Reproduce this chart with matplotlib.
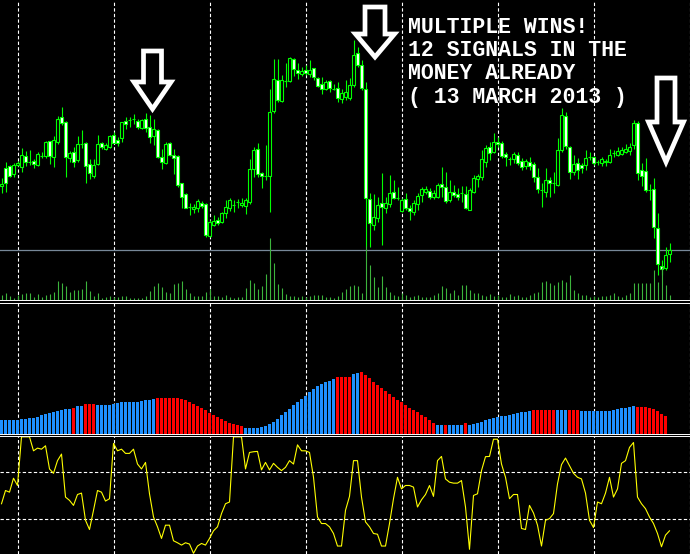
import matplotlib
matplotlib.use('Agg')
import matplotlib.pyplot as plt
from matplotlib.patches import Polygon
import numpy as np

# candles (price in points)
opens = [114, 132, 134, 126, 135, 133, 144, 138, 139, 135,
         144, 144, 159, 143, 158, 183, 178, 142, 148, 140,
         156, 157, 136, 124, 136, 157, 151, 153, 165, 160,
         162, 179, 180, 181, 179, 172, 181, 173, 164, 170,
         143, 137, 157, 145, 144, 117, 106, 93, 91, 92,
         97, 96, 64, 75, 80, 78, 87, 92, 95, 98,
         95, 94, 98, 131, 151, 127, 124, 124, 189, 220,
         199, 219, 219, 241, 230, 226, 230, 226, 232, 222,
         216, 211, 219, 211, 212, 201, 203, 202, 215, 247,
         235, 211, 101, 75, 82, 97, 92, 96, 108, 102,
         89, 101, 92, 88, 96, 105, 108, 109, 103, 103,
         116, 113, 100, 108, 106, 107, 106, 90, 108, 121,
         123, 138, 153, 148, 158, 157, 146, 141, 141, 145,
         139, 134, 138, 136, 123, 110, 108, 120, 117, 115,
         150, 184, 153, 128, 137, 135, 135, 143, 143, 138,
         137, 138, 138, 147, 145, 146, 148, 149, 155, 177,
         130, 129, 110, 111, 72, 34, 32, 46]
highs = [122, 138, 135, 137, 139, 152, 149, 150, 141, 148,
         148, 159, 159, 164, 184, 193, 179, 149, 153, 164,
         170, 158, 141, 141, 165, 158, 157, 165, 168, 163,
         178, 183, 183, 186, 181, 181, 187, 185, 181, 171,
         151, 158, 158, 151, 145, 117, 107, 97, 96, 101,
         99, 97, 80, 85, 83, 88, 100, 102, 100, 101,
         102, 102, 141, 153, 157, 128, 155, 211, 241, 241,
         225, 237, 243, 242, 237, 233, 235, 240, 232, 223,
         223, 220, 220, 216, 218, 211, 220, 222, 260, 253,
         240, 218, 107, 106, 103, 127, 103, 125, 120, 113,
         102, 107, 95, 100, 107, 113, 114, 112, 110, 117,
         133, 128, 120, 115, 112, 114, 114, 112, 125, 126,
         150, 155, 158, 167, 163, 159, 148, 143, 148, 148,
         142, 141, 143, 138, 132, 117, 132, 123, 128, 162,
         192, 188, 154, 145, 142, 137, 150, 148, 144, 140,
         143, 141, 151, 150, 153, 153, 156, 157, 180, 179,
         137, 142, 116, 122, 87, 40, 53, 57]
lows = [107, 108, 123, 123, 134, 128, 134, 135, 132, 134,
        142, 142, 136, 133, 156, 175, 123, 138, 133, 138,
        152, 117, 121, 122, 135, 151, 150, 152, 157, 154,
        158, 171, 173, 176, 171, 171, 168, 157, 155, 142,
        131, 136, 144, 126, 113, 92, 92, 85, 87, 88,
        92, 63, 63, 74, 75, 77, 82, 89, 88, 92,
        93, 86, 96, 123, 123, 112, 120, 88, 187, 198,
        198, 213, 218, 224, 221, 224, 225, 223, 220, 213,
        206, 210, 208, 210, 198, 197, 200, 200, 213, 233,
        210, 53, 53, 70, 78, 55, 87, 93, 101, 100,
        88, 90, 80, 85, 90, 98, 106, 101, 101, 102,
        103, 97, 98, 103, 100, 98, 91, 90, 107, 113,
        120, 133, 140, 147, 153, 142, 134, 135, 137, 135,
        130, 131, 130, 118, 107, 93, 103, 103, 107, 114,
        148, 151, 121, 125, 121, 127, 130, 140, 135, 135,
        134, 134, 137, 143, 144, 145, 147, 145, 151, 120,
        114, 108, 100, 62, 25, 25, 30, 38]
closes = [116, 117, 124, 135, 137, 145, 138, 138, 136, 146,
          144, 158, 144, 160, 181, 177, 143, 147, 138, 156,
          156, 134, 127, 135, 156, 153, 155, 164, 157, 157,
          178, 176, 180, 181, 173, 180, 172, 163, 171, 143,
          138, 156, 145, 142, 115, 103, 92, 93, 93, 99,
          94, 65, 78, 79, 77, 87, 93, 100, 95, 98,
          97, 100, 131, 150, 126, 124, 124, 188, 221, 200,
          220, 219, 242, 231, 227, 229, 227, 230, 223, 214,
          211, 218, 212, 211, 202, 207, 208, 215, 245, 235,
          212, 102, 77, 83, 95, 93, 97, 107, 102, 102,
          100, 92, 89, 97, 104, 111, 111, 103, 107, 115,
          113, 99, 108, 105, 103, 107, 92, 110, 122, 124,
          141, 152, 147, 158, 156, 144, 143, 141, 146, 137,
          133, 139, 134, 123, 111, 110, 120, 117, 117, 150,
          185, 154, 128, 136, 130, 132, 142, 143, 137, 138,
          141, 139, 145, 147, 149, 150, 151, 153, 177, 127,
          124, 110, 110, 73, 36, 31, 45, 50]
volumes = [5, 7, 4, 2, 5, 6, 7, 7, 3, 6,
           3, 5, 6, 8, 19, 17, 14, 8, 10, 10,
           11, 19, 9, 4, 7, 2, 3, 4, 3, 3,
           4, 4, 2, 2, 2, 2, 4, 9, 14, 17,
           13, 8, 7, 16, 17, 19, 11, 7, 4, 4,
           4, 8, 11, 4, 4, 3, 5, 3, 2, 3,
           3, 12, 20, 17, 11, 14, 26, 62, 37, 16,
           12, 6, 4, 4, 3, 4, 3, 4, 5, 5,
           5, 3, 3, 2, 4, 8, 11, 14, 15, 14,
           7, 54, 35, 23, 13, 24, 13, 8, 5, 4,
           7, 5, 3, 4, 5, 3, 3, 3, 5, 7,
           14, 12, 7, 10, 5, 15, 15, 10, 7, 7,
           5, 4, 6, 4, 5, 3, 3, 6, 4, 5,
           3, 3, 5, 7, 8, 18, 19, 17, 15, 18,
           20, 18, 25, 10, 7, 5, 5, 3, 4, 3,
           4, 4, 5, 7, 4, 3, 5, 7, 17, 17,
           17, 17, 17, 30, 18, 33, 15, 5]

# trend histogram (middle window)
hist_values = [14, 14, 14, 14, 14, 15, 15, 16, 16.7, 17.7,
               19, 20, 21, 22, 23, 24, 25, 25, 26.3, 28,
               28, 30, 30, 30, 29, 29, 29, 29.7, 30, 31,
               32, 32, 32, 32, 32.7, 33.3, 34, 34.7, 35, 36,
               36, 36, 36, 36, 36, 35, 34, 32, 30, 28,
               26, 24, 21, 19, 17, 15, 13, 11.7, 10.7, 9.7,
               8, 6, 6, 6, 6, 7, 8, 10, 12.7, 15,
               19, 22, 25, 29, 32, 35, 38, 42, 45, 48,
               50, 52, 53.3, 55, 57, 57, 57, 57, 60, 61,
               62.3, 59, 56.7, 52, 49, 46, 43, 40.3, 37.3, 34.7,
               32, 29.3, 26.7, 24, 22, 19.3, 17, 14, 11.3, 9,
               9, 9, 9, 9, 9, 9, 11, 9.7, 10, 11.3,
               12.7, 14, 15, 16, 17, 18, 18.7, 19.3, 20.3, 21.3,
               22, 22, 23, 24, 24, 24, 24, 24, 24, 24,
               24, 24, 24.3, 24.3, 24.3, 23, 23, 23, 23, 23,
               23, 23, 23, 24, 25, 26, 26, 27, 28, 27.7,
               27, 27, 26, 25, 23, 20, 18]
hist_down = [18, 21, 22, 23,
             39, 40, 41, 42, 43, 44, 45, 46, 47, 48, 49, 50,
             51, 52, 53, 54, 55, 56, 57, 58, 59, 60,
             84, 85, 86, 87,
             90, 91, 92, 93, 94, 95, 96, 97, 98, 99, 100,
             101, 102, 103, 104, 105, 106, 107, 108,
             111, 116, 133, 134, 135, 136, 137, 138, 142, 143, 144,
             159, 160, 161, 162, 163, 164, 165, 166]

# oscillator (bottom window)
osc_values = [42.9, 54.2, 52.8, 64.7, 58.5, 100, 100, 100, 88.1, 90.4,
              89.5, 92.4, 72.6, 68.9, 79.7, 85.3, 48.6, 45.8, 41.5, 50.8,
              52, 28.8, 20.9, 37.3, 54.2, 52.8, 45.2, 47.2, 94.4, 88.1,
              89.5, 85.9, 85.9, 89.5, 76.8, 72.6, 78.2, 51.4, 31.6, 23.2,
              13.3, 24.6, 24.6, 11.3, 9.6, 7.6, 9.6, 8.5, 0.6, 6.8,
              9, 7.6, 13.3, 19.8, 23.2, 34.5, 42.9, 44.4, 100, 100,
              100, 72.6, 86.7, 87.3, 87.6, 71.8, 78.2, 71.8, 77.4, 74,
              71.2, 74, 79.7, 76.8, 93.2, 88.1, 88.1, 86.7, 65.5, 31.6,
              26, 26, 23.2, 17.5, 6.8, 6.8, 37.3, 49.2, 79.7, 79.7,
              48.6, 27.4, 23.2, 17.5, 16.9, 6.8, 6.8, 26, 47.2, 65.5,
              55.6, 58.5, 58.5, 57.1, 40.1, 46.3, 50.8, 58.5, 49.2, 79.7,
              83.3, 64.1, 61.3, 60.5, 60.5, 62.7, 40.1, 4, 50, 51.4,
              71.2, 83.1, 83.3, 98, 98, 76.8, 65.5, 47.2, 50.8, 50.8,
              21.8, 20.9, 41.5, 35, 24.6, 6.8, 28.8, 30.2, 34.5, 59.9,
              76.3, 81.9, 75.4, 68.9, 65.5, 64.1, 52, 28.8, 22.6, 44.4,
              42.9, 52, 65.5, 48.6, 55.6, 77.4, 79.7, 91, 95.2, 48.6,
              42.9, 38.7, 31.6, 26, 17.5, 6.2, 16.1, 19.8]
osc_levels = [70, 30]

grid_bars = [4, 28, 52, 76, 100, 124, 148, 172]

message = ['MULTIPLE WINS!', '12 SIGNALS IN THE', 'MONEY ALREADY', '( 13 MARCH 2013 )']

W, H = 690.0, 554.0
LIME = '#00ff00'
GRID = dict(color='white', linestyle=(0, (3, 2)), linewidth=0.8)


def _setup(ax, spines):
    ax.set_facecolor('black')
    for name, sp in ax.spines.items():
        if name in spines:
            sp.set_color('white')
            sp.set_linewidth(0.7)
        else:
            sp.set_visible(False)
    ax.set_xlim(-0.375, 172.125)
    ax.set_xticks(grid_bars)
    ax.set_yticks([])
    ax.tick_params(length=0, labelbottom=False, labelleft=False)
    ax.grid(axis='x', **GRID)
    ax.set_axisbelow(True)


fig = plt.figure(figsize=(W / 100, H / 100), dpi=100, facecolor='black')
ax_price = fig.add_axes([0, 1 - 300.3 / H, 1, 300.3 / H])
ax_hist = fig.add_axes([0, 1 - 434.3 / H, 1, 131.8 / H])
ax_osc = fig.add_axes([0, 0, 1, 118.3 / H])

# main window: candles + volumes + bid line
_setup(ax_price, ['bottom'])
x = np.arange(len(closes))
o = np.array(opens)
c = np.array(closes)
body_lo = np.minimum(o, c)
body_h = np.abs(c - o)
fills = ['black' if cc > oo else 'white' for oo, cc in zip(o, c)]
ax_price.vlines(x, lows, highs, color=LIME, linewidth=0.8, zorder=2)
ax_price.bar(x, body_h, bottom=body_lo, width=0.6, color=fills,
             edgecolor=LIME, linewidth=0.8, zorder=3)
ax_price.axhline(closes[-1], color='#778899', linewidth=0.9, zorder=1)
ax_price.set_ylim(-0.5, 300)

ax_vol = ax_price.twinx()
ax_vol.set_ylim(0, 300.5)
ax_vol.vlines(x, 0, volumes, color='#3cb43c', linewidth=0.8)
ax_vol.set_yticks([])
ax_vol.tick_params(length=0, labelright=False)
for sp in ax_vol.spines.values():
    sp.set_visible(False)

# middle window: histogram
_setup(ax_hist, ['top', 'bottom'])
xh = np.arange(len(hist_values))
hcolors = ['#ff0000' if i in hist_down else '#1e90ff' for i in xh]
ax_hist.bar(xh, hist_values, width=0.75, color=hcolors, linewidth=0)
ax_hist.set_ylim(0, 132)

# bottom window: oscillator
_setup(ax_osc, ['top'])
for lv in osc_levels:
    ax_osc.axhline(lv, **GRID)
ax_osc.plot(x, osc_values, color='#ffff00', linewidth=0.8)
ax_osc.set_ylim(0, 101)

# annotations: arrows and message
ax_over = fig.add_axes([0, 0, 1, 1])
ax_over.set_xlim(0, W)
ax_over.set_ylim(H, 0)
ax_over.axis('off')
ax_over.patch.set_alpha(0)
arrows = [(152.5, 51, 9, 18.5, 82, 109),
          (375, 7, 10, 19.5, 34, 57),
          (666, 78, 9, 17.5, 122, 162)]
for cx, ty, sw, hw, hy, tip in arrows:
    verts = [(cx - sw, ty), (cx + sw, ty), (cx + sw, hy), (cx + hw, hy),
             (cx, tip), (cx - hw, hy), (cx - sw, hy)]
    ax_over.add_patch(Polygon(verts, closed=True, facecolor='black',
                              edgecolor='white', linewidth=3.4, joinstyle='miter'))

for k, line in enumerate(message):
    ax_over.text(408, 33 + 23.2 * k, line, color='white', fontsize=15.5,
                 family='Liberation Mono', weight='bold', va='baseline', ha='left')

fig.savefig('out.png', dpi=100, facecolor='black')
